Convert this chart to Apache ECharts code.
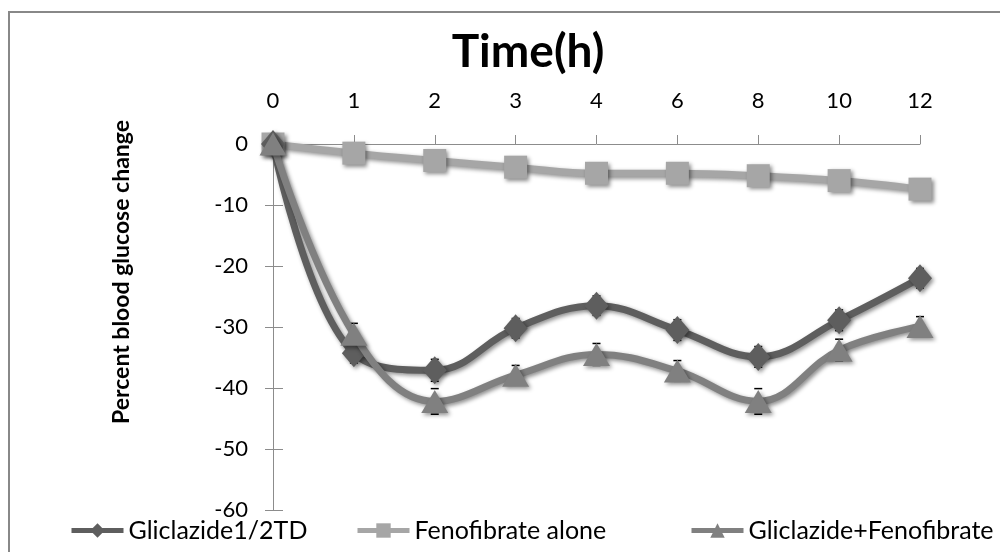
<!DOCTYPE html>
<html>
<head>
<meta charset="utf-8">
<script src="https://cdn.jsdelivr.net/npm/echarts@6/dist/echarts.min.js"></script>
<style>
html,body{margin:0;padding:0;background:#fff;}
#chart{width:1000px;height:552px;}
</style>
</head>
<body>
<div id="chart"></div>
<script>
const categories = ['0','1','2','3','4','6','8','10','12'];
const gliclazideHalf = [0, -34.3, -37.1, -30.2, -26.5, -30.5, -34.9, -28.9, -22.0];
const fenofibrate = [0, -1.5, -2.7, -3.8, -4.8, -4.8, -5.2, -6.0, -7.4];
const gliclazideFeno = [0, -31.2, -42.2, -37.9, -34.5, -37.2, -42.2, -33.8, -29.9];
const errHalf = [0, 1.6, 1.8, 1.6, 1.6, 1.7, 1.7, 1.7, 1.6];
const errCombo = [0, 1.8, 2.1, 1.6, 1.8, 1.7, 2.1, 1.8, 1.6];
const yTicks = [0, -10, -20, -30, -40, -50, -60];
const seriesNames = ['Gliclazide1/2TD', 'Fenofibrate alone', 'Gliclazide+Fenofibrate'];

const FONT = 'Lato';
const chart = echarts.init(document.getElementById('chart'));

function errorSeries(values, errs, name) {
  const data = values.map((v, i) => [i, v, errs[i]]);
  return {
    type: 'custom',
    name: name,
    silent: true,
    z: 1,
    data: data,
    encode: {x: 0, y: 1},
    renderItem: function (params, api) {
      const x = api.value(0), y = api.value(1), e = api.value(2);
      if (!e) return null;
      const top = api.coord([x, y + e]);
      const bot = api.coord([x, y - e]);
      const w = 4;
      const st = {stroke: '#000', lineWidth: 1.5};
      return {
        type: 'group',
        children: [
          {type: 'line', shape: {x1: top[0] - w, y1: top[1], x2: top[0] + w, y2: top[1]}, style: st},
          {type: 'line', shape: {x1: bot[0] - w, y1: bot[1], x2: bot[0] + w, y2: bot[1]}, style: st}
        ]
      };
    }
  };
}

const shadow = {shadowBlur: 4, shadowColor: 'rgba(0,0,0,0.45)', shadowOffsetX: 2, shadowOffsetY: 2};
const legendLefts = [64, 350, 684];

chart.setOption({
  animation: false,
  backgroundColor: '#fff',
  textStyle: {fontFamily: FONT},
  title: {
    text: 'Time(h)',
    left: 523,
    top: 24,
    textAlign: 'center',
    textStyle: {fontFamily: FONT, fontSize: 46, fontWeight: 'bold', color: '#000'}
  },
  graphic: [{
    type: 'rect',
    shape: {x: 9, y: 12, width: 1020, height: 600},
    style: {fill: 'none', stroke: '#888', lineWidth: 2},
    silent: true
  }],
  legend: seriesNames.map((n, i) => ({
    bottom: 4,
    left: legendLefts[i],
    itemWidth: 52,
    itemHeight: 18,
    lineStyle: {width: 5},
    data: [n],
    textStyle: {fontFamily: FONT, fontSize: 25, color: '#000'}
  })),
  grid: {left: 273, right: 80, top: 144, bottom: 42},
  xAxis: {
    type: 'category',
    position: 'top',
    data: categories,
    boundaryGap: false,
    axisLine: {lineStyle: {color: '#8c8c8c', width: 1}},
    axisTick: {show: true, alignWithLabel: true, length: 9, lineStyle: {color: '#8c8c8c'}},
    axisLabel: {margin: 32, fontFamily: FONT, fontSize: 22, color: '#000'},
    splitLine: {show: false}
  },
  yAxis: [{
    type: 'value',
    min: -60, max: 0, interval: 10,
    name: 'Percent blood glucose change',
    nameLocation: 'middle',
    nameGap: 140,
    nameRotate: 90,
    nameTextStyle: {fontFamily: FONT, fontSize: 23, fontWeight: 'bold', color: '#000', padding: [0, 0, 0, 110]},
    axisLine: {show: true, lineStyle: {color: '#8c8c8c'}},
    axisTick: {show: true, length: 8, lineStyle: {color: '#8c8c8c'}},
    axisLabel: {margin: 25, fontFamily: FONT, fontSize: 22, color: '#000',
      formatter: function (v) { return yTicks.indexOf(v) >= 0 ? String(v) : ''; }},
    splitLine: {show: false}
  }, {
    type: 'value',
    min: -60, max: 0, interval: 10,
    position: 'left',
    axisLine: {show: false},
    axisTick: {show: true, inside: true, length: 10, lineStyle: {color: '#8c8c8c'}},
    axisLabel: {show: false},
    splitLine: {show: false}
  }],
  series: [
    errorSeries(gliclazideHalf, errHalf, 'errHalf'),
    errorSeries(gliclazideFeno, errCombo, 'errCombo'),
    {
      name: seriesNames[1],
      type: 'line',
      data: fenofibrate,
      smooth: 0.4,
      z: 2,
      symbol: 'rect',
      symbolSize: 23,
      lineStyle: Object.assign({color: '#a6a6a6', width: 7}, shadow),
      itemStyle: Object.assign({color: '#a6a6a6'}, shadow)
    },
    {
      name: seriesNames[0],
      type: 'line',
      data: gliclazideHalf,
      smooth: 0.4,
      z: 3,
      symbol: 'diamond',
      symbolSize: [24, 28],
      lineStyle: Object.assign({color: '#5e5e5e', width: 7}, shadow),
      itemStyle: Object.assign({color: '#5e5e5e'}, shadow)
    },
    {
      name: seriesNames[2],
      type: 'line',
      data: gliclazideFeno,
      smooth: 0.4,
      z: 4,
      symbol: 'triangle',
      symbolSize: [27, 23],
      lineStyle: Object.assign({color: '#808080', width: 7}, shadow),
      itemStyle: Object.assign({color: '#808080'}, shadow)
    }
  ]
});
</script>
</body>
</html>
